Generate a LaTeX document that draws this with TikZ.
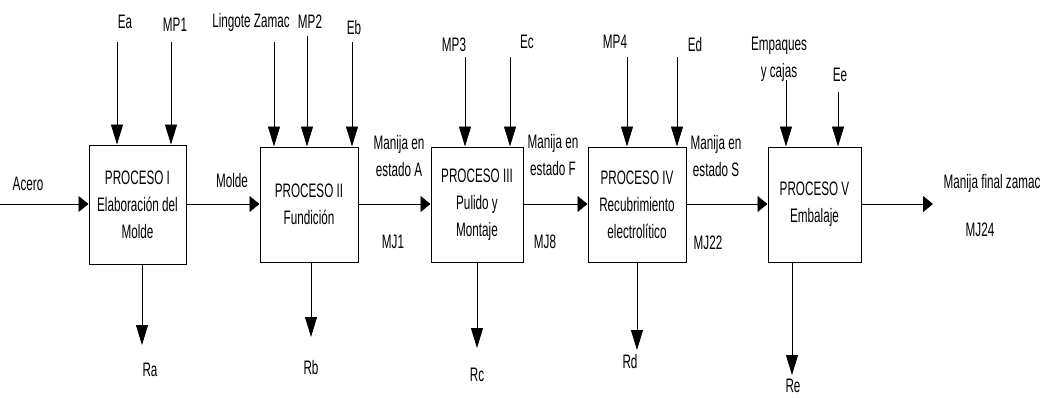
\documentclass[tikz,border=0pt]{standalone}
\usepackage{fontspec}
\setmainfont[FakeStretch=0.6]{Liberation Sans}
\usetikzlibrary{arrows.meta}
\begin{document}
\begin{tikzpicture}[x=1pt,y=-1pt,
  every node/.style={font=\fontsize{19.5}{27}\selectfont, inner sep=0pt, align=center},
  proc/.style={draw=black, line width=1pt, inner sep=0pt, align=center},
  lbl/.style={anchor=center},
  varr/.style={draw=black, line width=0.9pt, -{Triangle[length=20pt,width=12pt]}},
  harr/.style={draw=black, line width=0.9pt, -{Triangle[length=10pt,width=16pt]}},
  link/.style={draw=black, line width=0.9pt}]
\useasboundingbox (0,0) rectangle (1047,397);

% process boxes
\node[proc, minimum width=97pt, minimum height=119pt] (b1) at (137.5,204.5) {PROCESO I\\Elaboración del\\Molde};
\node[proc, minimum width=98pt, minimum height=115pt] (b2) at (309,204.5) {PROCESO II\\Fundición};
\node[proc, minimum width=92pt, minimum height=115pt] (b3) at (477,204.5) {PROCESO III\\Pulido y\\Montaje};
\node[proc, minimum width=98pt, minimum height=115pt] (b4) at (637,204.5) {PROCESO IV\\Recubrimiento\\electrolítico};
\node[proc, minimum width=93pt, minimum height=115pt] (b5) at (814.5,204.5) {PROCESO V\\Embalaje};

% input labels
\node[lbl] (lea) at (125,22) {Ea};
\node[lbl] (lmp1) at (175,25) {MP1};
\node[lbl] (llz) at (251,22) {Lingote Zamac};
\node[lbl] (lmp2) at (310,22) {MP2};
\node[lbl] (leb) at (354,28) {Eb};
\node[lbl] (lmp3) at (454,45) {MP3};
\node[lbl] (lec) at (527,42) {Ec};
\node[lbl] (lmp4) at (615,42) {MP4};
\node[lbl] (led) at (695,45) {Ed};
\node[lbl] (lemp) at (779,59) {Empaques\\y cajas};
\node[lbl] (lee) at (840,75) {Ee};

% input arrow start points
\coordinate (iea) at (117,42);
\coordinate (imp1) at (171,42);
\coordinate (ilz) at (274,42);
\coordinate (imp2) at (307,36);
\coordinate (ieb) at (352,42);
\coordinate (imp3) at (465,57);
\coordinate (iec) at (510,57);
\coordinate (imp4) at (627,57);
\coordinate (ied) at (677,57);
\coordinate (iemp) at (786,80);
\coordinate (iee) at (838,92);

\draw[varr] (iea) -- (iea |- b1.north);
\draw[varr] (imp1) -- (imp1 |- b1.north);
\draw[varr] (ilz) -- (ilz |- b2.north);
\draw[varr] (imp2) -- (imp2 |- b2.north);
\draw[varr] (ieb) -- (ieb |- b2.north);
\draw[varr] (imp3) -- (imp3 |- b3.north);
\draw[varr] (iec) -- (iec |- b3.north);
\draw[varr] (imp4) -- (imp4 |- b4.north);
\draw[varr] (ied) -- (ied |- b4.north);
\draw[varr] (iemp) -- (iemp |- b5.north);
\draw[varr] (iee) -- (iee |- b5.north);

% horizontal flow
\coordinate (start) at (0,204);
\coordinate (fin) at (933,204);
\draw[harr] (start) -- (start -| b1.west);
\draw[harr] (b1.east |- start) -- (b2.west |- start);
\draw[harr] (b2.east |- start) -- (b3.west |- start);
\draw[harr] (b3.east |- start) -- (b4.west |- start);
\draw[harr] (b4.east |- start) -- (b5.west |- start);
\draw[harr] (b5.east |- start) -- (fin);

\node[lbl] (lac) at (28,184) {Acero};
\node[lbl] (lmo) at (232,181) {Molde};
\node[lbl] (lma) at (399,156) {Manija en\\estado A};
\node[lbl] (lmj1) at (393,242) {MJ1};
\node[lbl] (lmf) at (553,155) {Manija en\\estado F};
\node[lbl] (lmj8) at (545,242) {MJ8};
\node[lbl] (lms) at (716,156) {Manija en\\estado S};
\node[lbl] (lmj22) at (708,243) {MJ22};
\node[lbl] (lfin) at (992,183) {Manija final zamac};
\node[lbl] (lmj24) at (980,230) {MJ24};

% outputs
\coordinate (ora) at (142,345);
\coordinate (orb) at (311,337);
\coordinate (orc) at (477,348);
\coordinate (ord) at (637,350);
\coordinate (ore) at (792,375);
\draw[varr] (b1.south -| ora) -- (ora);
\draw[varr] (b2.south -| orb) -- (orb);
\draw[varr] (b3.south -| orc) -- (orc);
\draw[varr] (b4.south -| ord) -- (ord);
\draw[varr] (b5.south -| ore) -- (ore);

\node[lbl] (lra) at (150,370) {Ra};
\node[lbl] (lrb) at (311,368) {Rb};
\node[lbl] (lrc) at (477,375) {Rc};
\node[lbl] (lrd) at (630,362) {Rd};
\node[lbl] (lre) at (793,386) {Re};
\end{tikzpicture}
\end{document}
